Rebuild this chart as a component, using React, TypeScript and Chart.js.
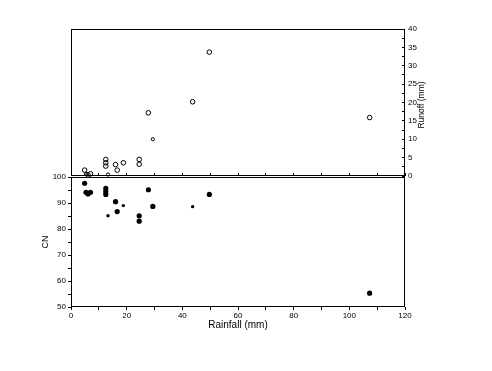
import React, { useEffect, useRef } from 'react';
import { Chart, registerables } from 'chart.js';

Chart.register(...registerables);

// Rainfall events (mm), shared by both panels
const rainfall = [4.9, 5.4, 6.1, 7.0, 12.5, 12.5, 12.5, 13.3, 16.0, 16.6, 18.8, 24.5, 24.5, 27.8, 29.4, 43.7, 49.7, 107.3];
// Runoff (mm) for each event (top panel, open circles)
const runoff = [1.6, 0.6, 0.3, 0.6, 4.5, 3.6, 2.7, 0.4, 3.1, 1.6, 3.6, 4.5, 3.2, 17.2, 10.0, 20.2, 33.7, 15.9];
// Curve number for each event (bottom panel, filled dots)
const curveNumber = [97.6, 94.1, 93.5, 94.1, 95.6, 94.4, 93.3, 85.1, 90.5, 86.7, 89.0, 85.1, 83.0, 95.1, 88.7, 88.6, 93.3, 55.3];

// Axis settings
const rainfallRange = [0, 120];
const rainfallLabelStep = 20;
const rainfallMinorStep = 10;
const runoffRange = [0, 40];
const runoffLabelStep = 5;
const runoffMinorStep = 2.5;
const cnRange = [50, 100];
const cnLabelStep = 10;
const cnMinorStep = 5;

// Marker style: indices drawn with smaller markers
const smallRunoffMarkers = [1, 7, 14];
const smallCnMarkers = [7, 10, 15];

const W = 492;
const H = 371;
const FONT = '"Liberation Sans", Arial, sans-serif';

const framePlugin = {
  id: 'frame',
  afterDraw(chart: any) {
    const { ctx, chartArea: a } = chart;
    ctx.save();
    ctx.strokeStyle = '#000';
    ctx.lineWidth = 1;
    ctx.strokeRect(a.left + 0.5, a.top + 0.5, a.right - a.left - 1, a.bottom - a.top - 1);
    ctx.restore();
  },
};

const runoffTitlePlugin = {
  id: 'runoffTitle',
  afterDraw(chart: any) {
    const { ctx } = chart;
    ctx.save();
    ctx.translate(422, 105);
    ctx.rotate(-Math.PI / 2);
    ctx.fillStyle = '#000';
    ctx.font = `8.5px ${FONT}`;
    ctx.textAlign = 'center';
    ctx.textBaseline = 'middle';
    ctx.fillText('Runoff (mm)', 0, 0);
    ctx.restore();
  },
};

export default function App() {
  const topRef = useRef<HTMLCanvasElement>(null);
  const botRef = useRef<HTMLCanvasElement>(null);

  useEffect(() => {
    Chart.defaults.color = '#000';
    Chart.defaults.font.family = FONT;

    const tickFont = { size: 8, family: FONT };

    const top = new Chart(topRef.current as HTMLCanvasElement, {
      type: 'scatter',
      data: {
        datasets: [
          {
            data: rainfall.map((x, i) => ({ x, y: runoff[i] })),
            pointStyle: 'circle',
            pointRadius: (c: any) => (smallRunoffMarkers.includes(c.dataIndex) ? 1.6 : 2.3),
            backgroundColor: 'rgba(255,255,255,0)',
            borderColor: '#000',
            borderWidth: 1,
            clip: false,
          } as any,
        ],
      },
      options: {
        animation: false,
        responsive: false,
        devicePixelRatio: 1,
        events: [],
        layout: { padding: { left: 71, top: 29, right: 0, bottom: 0 } },
        plugins: { legend: { display: false }, tooltip: { enabled: false } },
        scales: {
          x: {
            type: 'linear',
            position: 'bottom',
            min: rainfallRange[0],
            max: rainfallRange[1],
            afterFit: (s: any) => { s.height = H - 176; },
            ticks: { display: false, stepSize: rainfallMinorStep, autoSkip: false },
            grid: { drawOnChartArea: false, drawTicks: true, tickLength: -3, color: '#000' },
            border: { display: false },
          },
          y: {
            type: 'linear',
            position: 'right',
            min: runoffRange[0],
            max: runoffRange[1],
            afterFit: (s: any) => { s.width = W - 405; },
            ticks: {
              stepSize: runoffMinorStep,
              autoSkip: false,
              padding: 6,
              color: '#000',
              font: tickFont,
              callback: (v: any) => (Number(v) % runoffLabelStep === 0 ? String(v) : ''),
            },
            grid: { drawOnChartArea: false, drawTicks: true, tickLength: -3, color: '#000' },
            border: { display: false },
          },
        },
      } as any,
      plugins: [framePlugin, runoffTitlePlugin],
    });

    const bot = new Chart(botRef.current as HTMLCanvasElement, {
      type: 'scatter',
      data: {
        datasets: [
          {
            data: rainfall.map((x, i) => ({ x, y: curveNumber[i] })),
            pointStyle: 'circle',
            pointRadius: (c: any) => (smallCnMarkers.includes(c.dataIndex) ? 1.7 : 2.6),
            backgroundColor: '#000',
            borderColor: '#000',
            borderWidth: 0,
            clip: false,
          } as any,
        ],
      },
      options: {
        animation: false,
        responsive: false,
        devicePixelRatio: 1,
        events: [],
        layout: { padding: { left: 0, top: 177, right: 87, bottom: 34 } },
        plugins: { legend: { display: false }, tooltip: { enabled: false } },
        scales: {
          x: {
            type: 'linear',
            position: 'bottom',
            min: rainfallRange[0],
            max: rainfallRange[1],
            afterFit: (s: any) => { s.height = 30; },
            ticks: {
              stepSize: rainfallMinorStep,
              autoSkip: false,
              maxRotation: 0,
              padding: 1,
              color: '#000',
              font: tickFont,
              callback: (v: any) => (Number(v) % rainfallLabelStep === 0 ? String(v) : ''),
            },
            grid: { drawOnChartArea: false, drawTicks: true, tickLength: 3, color: '#000' },
            border: { display: false },
            title: {
              display: true,
              text: 'Rainfall (mm)',
              color: '#000',
              font: { size: 10, family: FONT },
              padding: { top: 0, bottom: 6 },
            },
          },
          y: {
            type: 'linear',
            position: 'left',
            min: cnRange[0],
            max: cnRange[1],
            afterFit: (s: any) => { s.width = 71; },
            ticks: {
              stepSize: cnMinorStep,
              autoSkip: false,
              padding: 2,
              color: '#000',
              font: tickFont,
              callback: (v: any) => (Number(v) % cnLabelStep === 0 ? String(v) : ''),
            },
            grid: { drawOnChartArea: false, drawTicks: true, tickLength: 3, color: '#000' },
            border: { display: false },
            title: {
              display: true,
              text: 'CN',
              color: '#000',
              font: { size: 9, family: FONT },
              padding: { top: 40, bottom: 0 },
            },
          },
        },
      } as any,
      plugins: [framePlugin],
    });

    return () => {
      top.destroy();
      bot.destroy();
    };
  }, []);

  const canvasStyle: React.CSSProperties = { position: 'absolute', left: 0, top: 0, width: W, height: H };

  return (
    <div style={{ position: 'fixed', left: 0, top: 0, width: W, height: H, background: '#fff' }}>
      <canvas ref={topRef} width={W} height={H} style={canvasStyle} />
      <canvas ref={botRef} width={W} height={H} style={canvasStyle} />
    </div>
  );
}
